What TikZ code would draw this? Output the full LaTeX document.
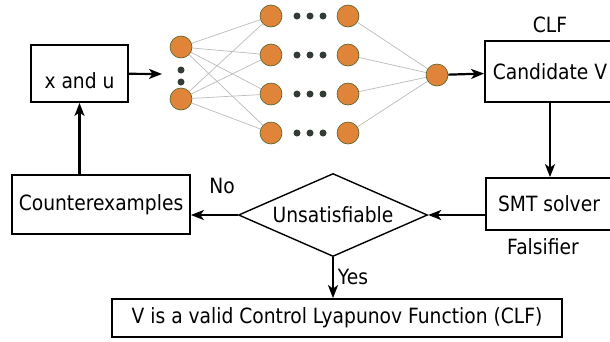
\documentclass[tikz,border=0pt]{standalone}
\usepackage{fontspec}
\setmainfont[FakeStretch=0.89]{DejaVu Sans}
\usepackage{tikz}
\usetikzlibrary{positioning, shapes.geometric, arrows.meta}
\usepackage{xcolor}
\definecolor{neuronfill}{HTML}{E0843A}
\definecolor{neuronline}{HTML}{4F6228}
\definecolor{dotgray}{HTML}{333B35}
\definecolor{wiregray}{HTML}{BBBBBB}

\begin{document}
\begin{tikzpicture}[x=1pt, y=-1pt, font=\fontsize{21}{24}\selectfont,
    neuron/.style={circle, draw=neuronline, fill=neuronfill, line width=0.6pt,
        minimum size=22pt, inner sep=0pt, on grid},
    ndot/.style={circle, fill=dotgray, minimum size=7pt, inner sep=0pt, on grid},
    block/.style={draw, line width=1.8pt, inner sep=2pt},
    wire/.style={draw=wiregray, line width=0.7pt},
    flow/.style={-{Stealth[length=13pt, width=10pt, inset=3.5pt]}, line width=2.2pt}]
    \useasboundingbox (0,0) rectangle (610,341);
    \clip (0,0) rectangle (610,341);
    % Add the network
        \node[neuron] (i0) at (181,47) {};
        \node[neuron,
            below=52pt of i0
            ] (i1) {};
        \node[ndot] (v0) at (181,70) {};
        \node[ndot,
            below=12pt of v0
            ] (v1) {};
        \node[neuron] (a0) at (271,16) {};
        \node[neuron,
            below=39pt of a0
            ] (a1) {};
        \node[neuron,
            below=39pt of a1
            ] (a2) {};
        \node[neuron,
            below=39pt of a2
            ] (a3) {};
        \node[neuron,
            right=77pt of a0
            ] (b0) {};
        \node[neuron,
            right=77pt of a1
            ] (b1) {};
        \node[neuron,
            right=77pt of a2
            ] (b2) {};
        \node[neuron,
            right=77pt of a3
            ] (b3) {};
        \foreach \k in {0,...,3} {
            \node[ndot, right=26pt of a\k] (p\k) {};
            \node[ndot, right=13pt of p\k] (q\k) {};
            \node[ndot, right=13pt of q\k] (r\k) {};
        }
        \node[neuron] (o) at (437,75) {};
        \foreach \i in {0,1}
            \foreach \k in {0,...,3}
                \draw[wire] (i\i) -- (a\k);
        \foreach \k in {0,...,3}
            \draw[wire] (b\k) -- (o);

    % Add the blocks
        \node[block,
            minimum width=97pt,
            minimum height=57pt,
            text height=31pt
            ] (xu) at (79.5,73.5) {x and u};
        \coordinate (inmid) at (162,74);
        \node[block,
            minimum width=130pt,
            minimum height=61pt
            ] (cand) at (550,71.5) {Candidate V};
        \node[draw=none] (clf) at (550,25) {CLF};
        \node[block,
            minimum width=126pt,
            minimum height=52pt
            ] (smt) at (549,204) {SMT solver};
        \node[draw=none] (fals) at (543,247) {Falsifier};
        \node[diamond,
            draw,
            line width=1.4pt,
            aspect=2.28,
            minimum width=189pt,
            minimum height=83pt,
            inner sep=0pt
            ] (unsat) at (333,215) {Unsatisfiable};
        \node[block,
            minimum width=178pt,
            minimum height=59pt
            ] (cex) at (101,204.5) {Counterexamples};
        \node[block,
            minimum width=450pt,
            minimum height=38pt
            ] (valid) at (337,318) {V is a valid Control Lyapunov Function (CLF)};
        \node[draw=none] (no) at (222,186) {No};
        \node[draw=none] (yes) at (353,277) {Yes};

    % Add the arrows
        \draw[flow] (xu) -- (inmid);
        \draw[flow] (o) -- (cand);
        \draw[flow] (cand.south) -- (cand.south |- smt.north);
        \draw[flow] (smt.west |- unsat.east) -- (unsat.east);
        \draw[flow] (unsat.west) -- (unsat.west -| cex.east);
        \draw[flow] (unsat.south) -- (unsat.south |- valid.north);
        \draw[flow] (xu.south |- cex.north) -- (xu.south);
\end{tikzpicture}
\end{document}
